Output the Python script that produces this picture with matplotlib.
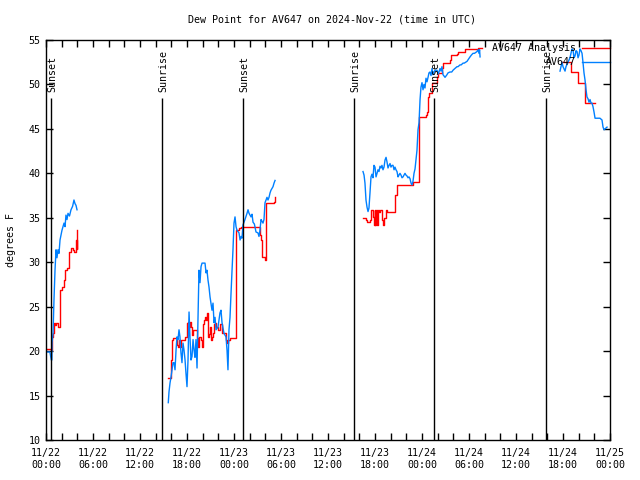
import matplotlib
matplotlib.use("Agg")
import matplotlib.pyplot as plt

plt.rcParams['font.family'] = ['DejaVu Sans Mono']

title = "Dew Point for AV647 on 2024-Nov-22 (time in UTC)"
ylabel = "degrees F"

# hours since 2024-11-22 00:00 UTC
xticks = [0, 6, 12, 18, 24, 30, 36, 42, 48, 54, 60, 66, 72]
xtick_labels = ["11/22\n00:00", "11/22\n06:00", "11/22\n12:00", "11/22\n18:00",
                "11/23\n00:00", "11/23\n06:00", "11/23\n12:00", "11/23\n18:00",
                "11/24\n00:00", "11/24\n06:00", "11/24\n12:00", "11/24\n18:00",
                "11/25\n00:00"]
yticks = [10, 15, 20, 25, 30, 35, 40, 45, 50, 55]

event_hours = [0.64, 14.81, 25.15, 39.32, 49.53, 63.83]
event_names = ["Sunset", "Sunrise", "Sunset", "Sunrise", "Sunset", "Sunrise"]

# ---- AV647 observations (blue), four segments ----
obs1_t = [0.0, 0.5, 0.68, 0.75, 0.77, 0.9, 1.02, 1.15, 1.28, 1.4, 1.53, 1.66, 1.79, 2.04,
          2.3, 2.43, 2.55, 2.68, 2.81, 3.0, 3.19, 3.4, 3.57, 3.7, 3.83, 3.96]
obs1_v = [19.9, 19.9, 19.0, 19.0, 21.0, 22.0, 25.8, 29.1, 31.4, 30.5, 31.4, 31.0, 32.5, 33.6,
          34.4, 34.0, 35.3, 34.8, 35.5, 35.2, 35.9, 36.3, 37.0, 36.6, 36.4, 35.9]

obs2_t = [15.61, 15.70, 15.83, 15.96, 16.09, 16.21, 16.34, 16.47, 16.60, 16.72, 16.85, 16.98,
          17.1, 17.23, 17.36, 17.49, 17.62, 17.75, 17.87, 18.0, 18.13, 18.26, 18.38, 18.51,
          18.64, 18.77, 18.9, 19.02, 19.15, 19.28, 19.40, 19.53, 19.66, 19.79, 19.92, 20.30,
          20.43, 20.55, 20.68, 20.81, 20.94, 21.19, 21.32, 21.45, 21.58, 21.70, 21.96, 22.21,
          22.34, 22.47, 22.72, 22.98, 23.11, 23.23, 23.36, 23.49, 23.62, 23.75, 23.87, 24.0,
          24.13, 24.26, 24.38, 24.64, 24.77, 24.9, 25.02, 25.15, 25.40, 25.66, 25.79, 25.92,
          26.17, 26.3, 26.43, 26.6, 26.81, 27.06, 27.19, 27.3, 27.45, 27.58, 27.70, 27.83,
          27.96, 28.09, 28.21, 28.34, 28.47, 28.6, 28.72, 28.98, 29.11, 29.24]
obs2_v = [14.2, 15.4, 16.4, 17.1, 17.9, 18.7, 18.7, 17.9, 20.1, 21.6, 21.3, 22.4,
          21.6, 19.8, 18.7, 20.9, 20.1, 19.0, 17.5, 16.0, 19.0, 24.4, 21.6, 19.0,
          19.4, 21.3, 20.1, 19.3, 21.3, 18.1, 23.5, 29.1, 27.7, 29.5, 29.9, 29.9,
          28.8, 29.1, 28.0, 27.2, 26.1, 24.6, 25.4, 23.2, 23.8, 22.4, 22.7, 24.3,
          24.6, 23.2, 22.0, 21.6, 20.1, 17.9, 22.4, 23.8, 26.5, 29.1, 31.4, 34.4,
          35.1, 34.0, 33.6, 33.3, 32.5, 32.9, 32.7, 34.2, 34.8, 35.5, 35.9, 35.5,
          35.1, 35.4, 34.5, 34.3, 33.4, 33.3, 32.9, 33.5, 34.8, 34.6, 34.4, 34.8,
          36.7, 37.0, 37.3, 37.0, 37.3, 37.8, 38.1, 38.5, 38.9, 39.2]

obs3_t = [40.47, 40.60, 40.72, 40.85, 40.98, 41.11, 41.23, 41.36, 41.49, 41.61, 41.74, 41.87,
          42.0, 42.13, 42.26, 42.38, 42.51, 42.64, 42.77, 42.89, 43.02, 43.15, 43.28, 43.41,
          43.53, 43.66, 43.79, 43.92, 44.04, 44.17, 44.30, 44.43, 44.55, 44.68, 44.81, 44.94,
          45.06, 45.19, 45.32, 45.45, 45.58, 45.70, 45.83, 45.96, 46.09, 46.21, 46.34, 46.47,
          46.60, 46.72, 46.85, 46.98, 47.11, 47.36, 47.49, 47.62, 47.75, 47.87, 48.0, 48.13,
          48.25, 48.38, 48.51, 48.64, 48.77, 48.89, 49.02, 49.15, 49.28, 49.4, 49.53, 49.66,
          49.91, 50.1, 50.30, 50.43, 50.55, 50.68, 50.94, 51.19, 51.32, 51.57, 51.8, 51.96,
          52.21, 52.47, 52.6, 52.85, 53.0, 53.24, 53.4, 53.75, 53.9, 54.13, 54.3, 54.51,
          54.7, 55.02, 55.15, 55.28, 55.35, 55.41]
obs3_v = [40.2, 39.8, 38.9, 37.0, 36.2, 35.7, 36.1, 37.8, 39.6, 39.9, 39.5, 40.9,
          40.7, 39.6, 40.0, 40.4, 40.2, 40.8, 40.6, 40.9, 40.4, 40.7, 41.5, 41.8,
          41.3, 40.6, 40.9, 41.1, 40.7, 40.9, 40.9, 40.4, 40.7, 40.4, 40.2, 39.6,
          39.8, 40.0, 39.8, 39.5, 39.6, 39.8, 40.0, 39.8, 39.7, 39.5, 39.6, 39.4,
          38.9, 38.7, 39.1, 40.0, 40.5, 42.6, 44.9, 45.7, 48.3, 49.7, 50.2, 49.4,
          50.0, 49.6, 50.7, 50.3, 50.8, 51.3, 51.4, 51.0, 51.8, 51.1, 51.4, 51.6,
          51.6, 51.2, 51.8, 51.5, 52.0, 51.1, 50.8, 51.1, 51.3, 51.4, 51.4, 51.6,
          51.8, 52.0, 52.0, 52.2, 52.2, 52.4, 52.4, 52.6, 52.8, 53.1, 53.3, 53.5,
          53.5, 53.7, 53.9, 53.5, 53.9, 53.1]

obs4_t = [65.62, 65.87, 66.0, 66.26, 66.38, 66.64, 66.89, 67.02, 67.15, 67.28, 67.4, 67.53,
          67.66, 67.79, 67.92, 68.04, 68.17, 68.3, 68.43, 68.55, 68.68, 68.81, 68.94, 69.06,
          69.19, 69.32, 69.45, 69.58, 69.70, 69.83, 69.96, 70.09, 70.72, 70.98, 71.11, 71.24,
          71.36, 71.62]
obs4_v = [51.5, 52.5, 52.0, 51.5, 52.0, 52.5, 53.0, 53.5, 54.0, 53.9, 53.0, 53.2,
          53.8, 53.7, 53.0, 53.3, 54.0, 53.8, 53.5, 52.5, 51.3, 50.5, 49.4, 48.6,
          48.4, 48.0, 48.3, 47.9, 47.9, 47.5, 46.9, 46.2, 46.2, 46.0, 45.2, 44.9,
          45.0, 45.2]

# ---- AV647 Analysis (red), four segments ----
ana1_t = [0.0, 0.64, 0.68, 0.77, 0.9, 1.02, 1.15, 1.28, 1.53, 1.66, 1.79, 2.04, 2.3, 2.43,
          2.68, 2.94, 3.19, 3.4, 3.57, 3.83, 3.9, 3.96]
ana1_v = [20.2, 20.2, 20.1, 21.6, 22.0, 23.2, 22.9, 23.2, 22.7, 22.7, 26.9, 27.2, 28.0, 29.1,
          29.4, 31.2, 31.6, 31.4, 31.2, 32.5, 31.5, 33.6]

ana2_t = [15.57, 15.83, 15.96, 16.09, 16.21, 16.60, 16.72, 16.85, 16.98, 17.1, 17.23, 17.75,
          18.0, 18.13, 18.26, 18.38, 18.51, 18.64, 18.77, 19.15, 19.28, 19.40, 19.53, 19.79,
          19.92, 20.04, 20.17, 20.30, 20.43, 20.55, 20.68, 20.81, 20.94, 21.06, 21.19, 21.32,
          21.45, 21.58, 21.70, 21.96, 22.21, 22.47, 22.85, 22.98, 23.11, 23.23, 23.49, 24.3,
          24.45, 24.64, 24.9, 26.17, 26.94, 27.36, 27.45, 27.55, 27.62, 27.96, 28.06, 28.09,
          28.6, 29.11, 29.24]
ana2_v = [17.0, 17.0, 19.0, 21.3, 21.5, 21.5, 20.7, 20.5, 21.3, 20.5, 21.3, 21.6,
          23.2, 23.3, 22.7, 23.3, 22.7, 21.8, 22.4, 22.4, 21.5, 20.5, 21.6, 21.3,
          20.5, 23.0, 23.5, 23.8, 23.5, 24.3, 21.6, 21.9, 22.7, 21.3, 21.6, 22.0,
          23.0, 23.2, 22.7, 22.4, 23.0, 22.0, 22.0, 21.3, 20.9, 21.3, 21.5, 33.6,
          33.6, 33.8, 34.0, 34.0, 34.0, 33.1, 32.5, 31.5, 30.6, 30.3, 30.6, 36.7,
          36.7, 36.8, 37.3]

ana3_t = [40.47, 40.72, 40.85, 40.98, 41.36, 41.49, 41.61, 41.74, 41.87, 41.94, 42.0, 42.13,
          42.26, 42.38, 42.51, 42.64, 42.89, 43.02, 43.15, 43.41, 43.53, 44.43, 44.55, 44.81,
          46.72, 46.85, 47.49, 47.62, 48.51, 48.64, 48.77, 48.89, 49.28, 49.66, 49.91, 50.04,
          50.43, 50.55, 50.68, 51.32, 51.57, 51.70, 52.47, 52.60, 53.24, 53.49, 55.15, 55.66]
ana3_v = [35.0, 35.0, 34.8, 34.5, 34.8, 35.9, 35.9, 35.1, 34.2, 35.9, 34.2, 35.9,
          34.2, 35.9, 35.7, 35.9, 34.8, 34.2, 35.0, 35.9, 35.7, 35.7, 37.6, 38.7,
          38.7, 39.0, 39.0, 46.3, 46.6, 46.9, 48.6, 49.0, 50.2, 50.2, 50.8, 51.3,
          51.3, 51.8, 52.4, 52.4, 52.8, 53.3, 53.4, 53.7, 53.7, 54.0, 54.1, 54.1]

ana4_t = [65.87, 67.02, 67.92, 68.81, 70.09]
ana4_v = [52.5, 51.4, 50.2, 47.9, 47.9]

obs_segments = [(obs1_t, obs1_v), (obs2_t, obs2_v), (obs3_t, obs3_v), (obs4_t, obs4_v)]
ana_segments = [(ana1_t, ana1_v), (ana2_t, ana2_v), (ana3_t, ana3_v), (ana4_t, ana4_v)]

RED = "#ff0000"
BLUE = "#0080ff"

fig = plt.figure(figsize=(6.4, 4.8), dpi=100)
ax = fig.add_axes([46 / 640, 40 / 480, 564 / 640, 400 / 480])

for t, v in ana_segments:
    ax.plot(t, v, color=RED, lw=1.0, drawstyle="steps-post")
for t, v in obs_segments:
    ax.plot(t, v, color=BLUE, lw=1.0)

for h, name in zip(event_hours, event_names):
    ax.vlines(h, 10, 48.5, color="black", lw=1.0)
    ax.text(h + 0.15, 49.2, name, rotation=90, ha="center", va="bottom",
            fontsize=7.2, color="black")

ax.set_xlim(0, 72)
ax.set_ylim(10, 55)
ax.set_xticks(xticks)
ax.set_xticklabels(xtick_labels, fontsize=7.2, linespacing=1.25)
ax.set_xticks(range(0, 73, 2), minor=True)
ax.set_yticks(yticks)
ax.set_yticklabels([str(y) for y in yticks], fontsize=7.2)
ax.tick_params(which="both", direction="in", top=True, right=True, length=5,
               width=1.0, pad=4)
ax.tick_params(axis="x", which="major", pad=6)
for s in ax.spines.values():
    s.set_linewidth(1.0)

ax.set_ylabel(ylabel, fontsize=7.2, labelpad=9)
fig.text(332 / 640, 1 - 19 / 480, title, ha="center", va="center", fontsize=7.2)

# legend (gnuplot style: right-aligned text, sample line to the right)
ax.text(0.94, 0.98, "AV647 Analysis", transform=ax.transAxes, ha="right",
        va="center", fontsize=7.2)
ax.plot([0.9504, 1.0], [0.98, 0.98], transform=ax.transAxes, color=RED, lw=1.0,
        clip_on=False)
ax.text(0.94, 0.945, "AV647", transform=ax.transAxes, ha="right", va="center",
        fontsize=7.2)
ax.plot([0.9504, 1.0], [0.945, 0.945], transform=ax.transAxes, color=BLUE, lw=1.0,
        clip_on=False)

fig.savefig("out.png", dpi=100)
